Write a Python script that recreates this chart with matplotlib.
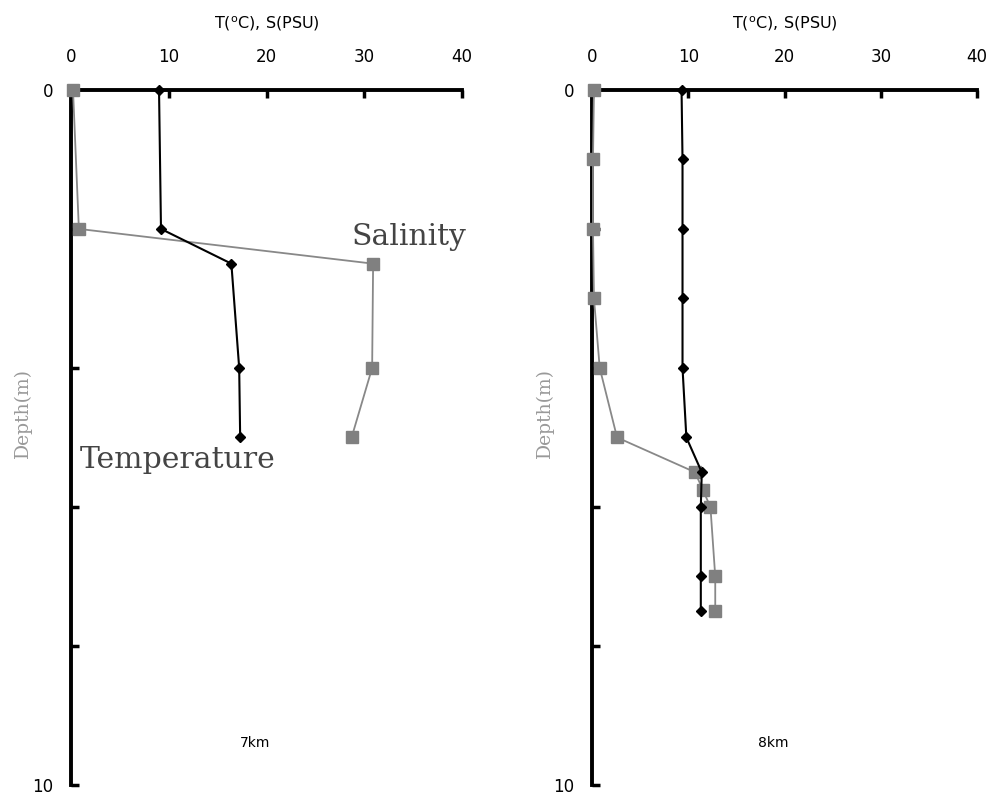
import numpy as np
import matplotlib
matplotlib.use('Agg')
import matplotlib.pyplot as plt

plt.rcParams['font.family'] = ['DejaVu Sans']

# 7km station
depth_7 = [0, 2.0, 2.5, 4.0, 5.0]
temp_7 = [9.0, 9.2, 16.4, 17.2, 17.3]
sal_7 = [0.2, 0.8, 30.9, 30.8, 28.7]

# 8km station
depth_8_t = [0, 1, 2, 3, 4, 5, 5.5, 6, 7, 7.5]
temp_8 = [9.3, 9.4, 9.4, 9.4, 9.4, 9.8, 11.4, 11.3, 11.3, 11.3]
depth_8_s = [0, 1, 2, 3, 4, 5, 5.5, 5.75, 6, 7, 7.5]
sal_8 = [0.2, 0.1, 0.1, 0.2, 0.8, 2.6, 10.7, 11.5, 12.3, 12.8, 12.8]

x_ticks = [0, 10, 20, 30, 40]
y_ticks = [0, 2, 4, 6, 8, 10]

fig = plt.figure(figsize=(9.95, 7.99), dpi=100)
ax1 = fig.add_axes([0.0714, 0.0175, 0.393, 0.870])
ax2 = fig.add_axes([0.595, 0.0175, 0.387, 0.870])


def setup(ax, label):
    ax.set_xlim(0, 40)
    ax.set_ylim(10, 0)
    ax.xaxis.tick_top()
    ax.xaxis.set_label_position('top')
    ax.set_xticks(x_ticks)
    ax.set_yticks(y_ticks)
    ax.set_yticklabels(['0', '', '', '', '', '10'])
    ax.tick_params(direction='in', width=2.5, length=6, labelsize=12)
    ax.tick_params(axis='x', pad=17)
    ax.tick_params(axis='y', pad=13)
    for s in ['right', 'bottom']:
        ax.spines[s].set_visible(False)
    for s in ['top', 'left']:
        ax.spines[s].set_linewidth(2.8)
    ax.set_xlabel('T($^{\\rm o}$C), S(PSU)', fontsize=11.5, labelpad=14)
    ax.set_ylabel('Depth(m)', fontsize=13.5, color='#999999',
                  family='DejaVu Serif')
    ax.yaxis.set_label_coords(-0.10, 0.535)
    ax.text(0.47, 0.06, label, transform=ax.transAxes, fontsize=10,
            ha='center', va='center')


setup(ax1, '7km')
setup(ax2, '8km')

for ax, dt, t, ds, s in [(ax1, depth_7, temp_7, depth_7, sal_7),
                         (ax2, depth_8_t, temp_8, depth_8_s, sal_8)]:
    ax.plot(s, ds, color='#888888', lw=1.3, marker='s', ms=8,
            mfc='#808080', mec='#808080', clip_on=False, zorder=3)
    ax.plot(t, dt, color='black', lw=1.5, marker='D', ms=5,
            clip_on=False, zorder=4)

ax1.text(28.7, 2.12, 'Salinity', fontsize=21.5, family='DejaVu Serif',
         color='#444444', ha='left', va='center')
ax1.text(0.9, 5.32, 'Temperature', fontsize=21.5, family='DejaVu Serif',
         color='#444444', ha='left', va='center')

fig.savefig('out.png', dpi=100)
